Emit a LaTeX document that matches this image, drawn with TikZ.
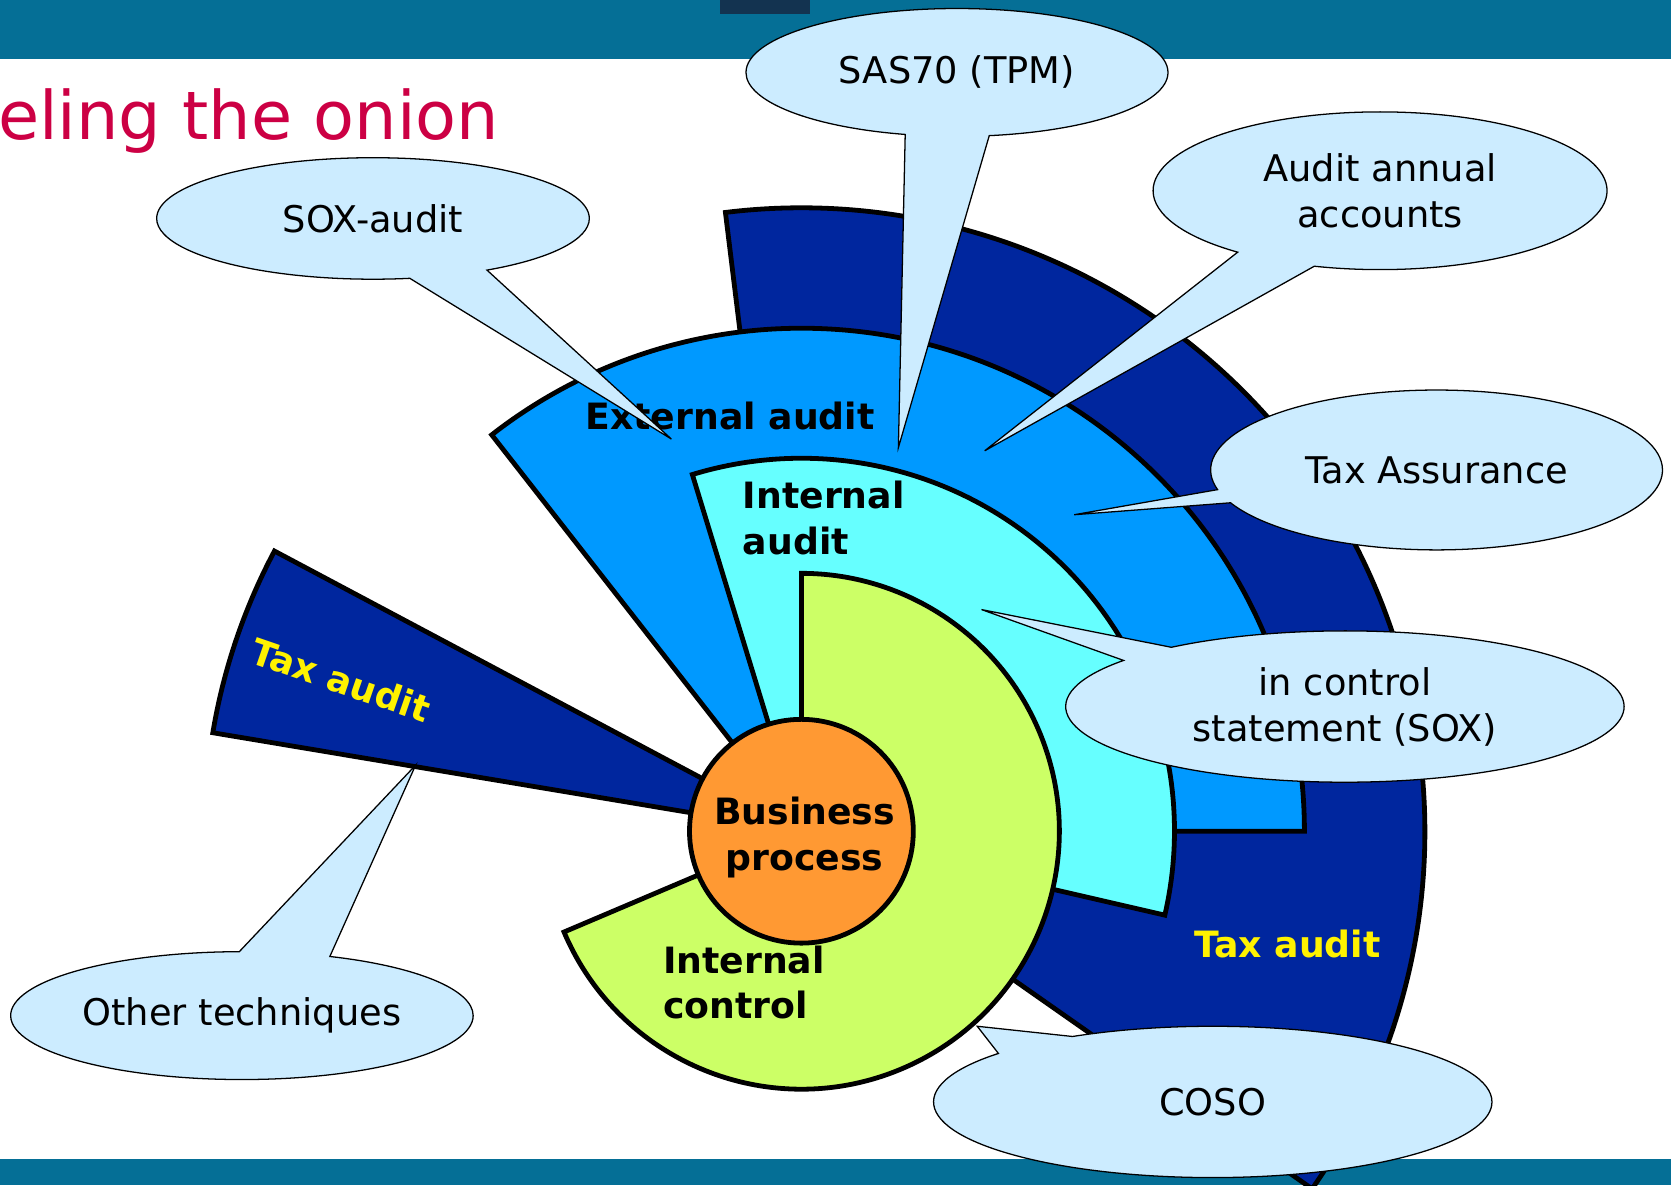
\documentclass[tikz,border=0pt]{standalone}
\usepackage{fontspec}
\setmainfont{DejaVu Sans}
\usetikzlibrary{shapes.callouts}

\definecolor{barteal}{RGB}{5,111,150}
\definecolor{barnavy}{RGB}{19,51,80}
\definecolor{titlered}{RGB}{204,0,68}
\definecolor{taxblue}{RGB}{0,38,158}
\definecolor{extblue}{RGB}{0,153,255}
\definecolor{intcyan}{RGB}{102,255,255}
\definecolor{ctrlgreen}{RGB}{204,255,102}
\definecolor{bporange}{RGB}{255,153,51}
\definecolor{calloutblue}{RGB}{204,236,255}

\begin{document}
\begin{tikzpicture}[x=1pt, y=1pt,
        sector/.style={draw=black, line width=4.5pt},
        layer/.style={inner sep=0pt, font=\fontsize{34}{43}\selectfont\bfseries},
        bubble/.style={ellipse callout, draw=black, line width=1.2pt, fill=calloutblue,
            inner sep=0pt, align=center, font=\fontsize{34.5}{43}\selectfont}]
    \useasboundingbox (0,0) rectangle (1568,1112);
    \fill[barteal] (0,1057) rectangle (1568,1112);
    \fill[barteal] (0,0) rectangle (1568,24);
    \fill[barnavy] (676,1099) rectangle (760,1112);
    \node[anchor=base west, inner sep=0pt, text=titlered,
        font=\fontsize{62.8}{75}\selectfont] (title) at (-2,981) {eling the onion};

    \coordinate (C) at (752,332);
    \filldraw[sector, fill=taxblue] (C) -- ++(-35:585) arc[start angle=-35, end angle=97, radius=585] -- cycle;
    \filldraw[sector, fill=taxblue] (C) -- ++(152:560) arc[start angle=152, end angle=170.5, radius=560] -- cycle;
    \filldraw[sector, fill=extblue] (C) -- ++(0:472) arc[start angle=0, end angle=128, radius=472] -- cycle;
    \filldraw[sector, fill=intcyan] (C) -- ++(-13:350) arc[start angle=-13, end angle=107, radius=350] -- cycle;
    \filldraw[sector, fill=ctrlgreen] (C) -- ++(-157:242) arc[start angle=-157, end angle=90, radius=242] -- cycle;
    \filldraw[sector, fill=bporange] (C) circle[radius=105];

    \node[layer] (exta) at (685,722) {External audit};
    \node[layer, align=left] (inta) at (773,626) {Internal\\audit};
    \node[layer, align=center] (bp) at (755,326) {Business\\process};
    \node[layer, align=left] (intc) at (698,190) {Internal\\control};
    \node[layer, text=yellow] (taxr) at (1208,226) {Tax audit};
    \node[layer, text=yellow, rotate=-19] (taxl) at (320,474) {Tax audit};

    \node[bubble, minimum width=396, minimum height=120, callout pointer arc=23,
        callout absolute pointer={(843,692)}] (sas) at (898,1044) {SAS70 (TPM)};
    \node[bubble, minimum width=406, minimum height=114, callout pointer arc=22,
        callout absolute pointer={(630,700)}] (sox) at (350,907) {SOX-audit};
    \node[bubble, minimum width=426, minimum height=148, callout pointer arc=22,
        callout absolute pointer={(924,689)}] (annual) at (1295,933) {Audit annual\\accounts};
    \node[bubble, minimum width=424, minimum height=150, callout pointer arc=10,
        callout absolute pointer={(1008,629)}] (taxas) at (1348,671) {Tax Assurance};
    \node[bubble, minimum width=524, minimum height=142, callout pointer arc=14,
        callout absolute pointer={(921,540)}] (ics) at (1262,449) {in control\\statement (SOX)};
    \node[bubble, minimum width=434, minimum height=120, callout pointer arc=23,
        callout absolute pointer={(390,394)}] (other) at (227,159) {Other techniques};
    \node[bubble, minimum width=524, minimum height=142, callout pointer arc=20,
        callout absolute pointer={(917,149)}] (coso) at (1138,78) {COSO};
\end{tikzpicture}
\end{document}
